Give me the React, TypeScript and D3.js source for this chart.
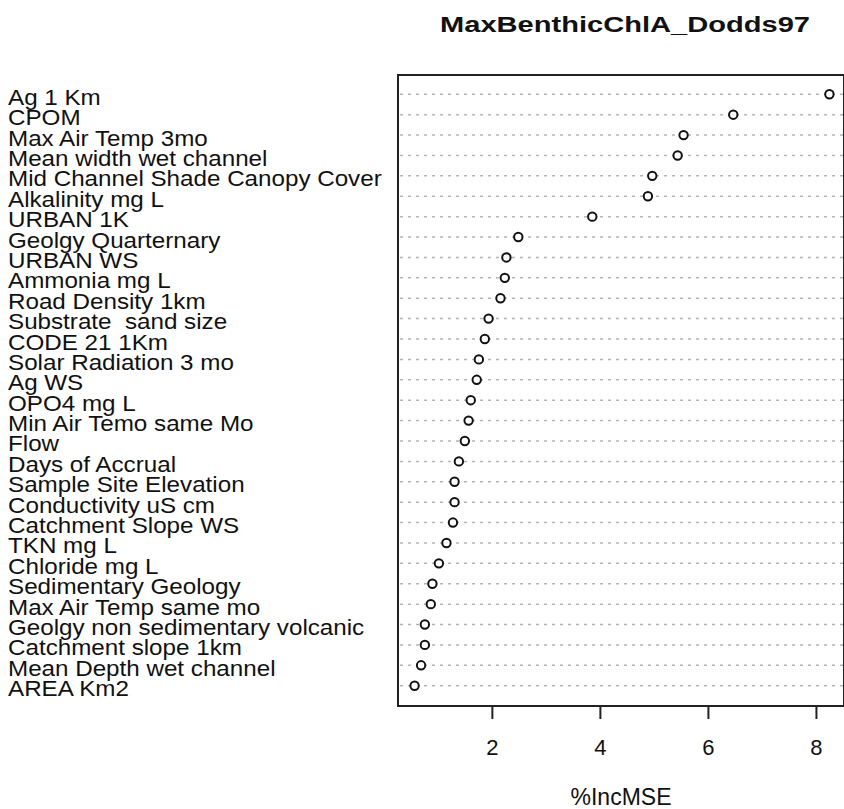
import React, { useRef, useEffect } from 'react';
import * as d3 from 'd3';

const title = 'MaxBenthicChlA_Dodds97';
const xLabel = '%IncMSE';

const variables = [
  'Ag 1 Km',
  'CPOM',
  'Max Air Temp 3mo',
  'Mean width wet channel',
  'Mid Channel Shade Canopy Cover',
  'Alkalinity mg L',
  'URBAN 1K',
  'Geolgy Quarternary',
  'URBAN WS',
  'Ammonia mg L',
  'Road Density 1km',
  'Substrate  sand size',
  'CODE 21 1Km',
  'Solar Radiation 3 mo',
  'Ag WS',
  'OPO4 mg L',
  'Min Air Temo same Mo',
  'Flow',
  'Days of Accrual',
  'Sample Site Elevation',
  'Conductivity uS cm',
  'Catchment Slope WS',
  'TKN mg L',
  'Chloride mg L',
  'Sedimentary Geology',
  'Max Air Temp same mo',
  'Geolgy non sedimentary volcanic',
  'Catchment slope 1km',
  'Mean Depth wet channel',
  'AREA Km2',
];

const incMSE = [
  8.24, 6.46, 5.54, 5.43, 4.96, 4.88, 3.85, 2.48, 2.26, 2.23,
  2.15, 1.93, 1.86, 1.75, 1.71, 1.6, 1.56, 1.49, 1.38, 1.3,
  1.3, 1.27, 1.15, 1.01, 0.89, 0.86, 0.75, 0.75, 0.68, 0.56,
];

const xTicks = [2, 4, 6, 8];

const W = 844;
const H = 809;
const FONT = '"Liberation Sans", Arial, Helvetica, sans-serif';

const App: React.FC = () => {
  const svgRef = useRef<SVGSVGElement>(null);

  useEffect(() => {
    if (!svgRef.current) return;
    const svg = d3.select(svgRef.current);
    svg.selectAll('*').remove();

    const box = { left: 398, right: 844, top: 75, bottom: 706 };

    // R dotchart style: 4% padding on the data range
    const [lo, hi] = d3.extent(incMSE) as [number, number];
    const pad = (hi - lo) * 0.04;
    const x = d3.scaleLinear().domain([lo - pad, hi + pad]).range([box.left, 846]);
    const y = d3.scalePoint<string>().domain(variables).range([94.3, 685.7]);

    svg.append('rect').attr('width', W).attr('height', H).attr('fill', '#fff');

    // dotted guide lines
    svg.append('g')
      .selectAll('line')
      .data(variables)
      .join('line')
      .attr('x1', box.left + 2)
      .attr('x2', box.right)
      .attr('y1', d => y(d)!)
      .attr('y2', d => y(d)!)
      .attr('stroke', '#b4b4b4')
      .attr('stroke-width', 1.5)
      .attr('stroke-dasharray', '3,5');

    // points
    svg.append('g')
      .selectAll('circle')
      .data(incMSE)
      .join('circle')
      .attr('cx', d => x(d))
      .attr('cy', (_, i) => y(variables[i])!)
      .attr('r', 4.2)
      .attr('fill', '#fff')
      .attr('stroke', '#111')
      .attr('stroke-width', 2);

    // frame
    svg.append('rect')
      .attr('x', box.left)
      .attr('y', box.top)
      .attr('width', box.right - box.left)
      .attr('height', box.bottom - box.top)
      .attr('fill', 'none')
      .attr('stroke', '#222')
      .attr('stroke-width', 2);

    // labels (the source bitmap font runs wide, so stretch horizontally)
    svg.append('g')
      .attr('transform', 'translate(8,0) scale(1.1,1)')
      .selectAll('text')
      .data(variables)
      .join('text')
      .attr('x', 0)
      .attr('y', d => y(d)! + 10.5)
      .attr('font-family', FONT)
      .attr('font-size', 22)
      .attr('fill', '#111')
      .style('white-space', 'pre')
      .text(d => d);

    // x axis
    const ax = svg.append('g');
    ax.selectAll('line')
      .data(xTicks)
      .join('line')
      .attr('x1', d => x(d))
      .attr('x2', d => x(d))
      .attr('y1', box.bottom)
      .attr('y2', box.bottom + 13)
      .attr('stroke', '#222')
      .attr('stroke-width', 2);
    ax.selectAll('text')
      .data(xTicks)
      .join('text')
      .attr('x', d => x(d))
      .attr('y', 755)
      .attr('text-anchor', 'middle')
      .attr('font-family', FONT)
      .attr('font-size', 22)
      .attr('fill', '#111')
      .text(d => d);

    svg.append('text')
      .attr('x', 621)
      .attr('y', 805)
      .attr('text-anchor', 'middle')
      .attr('font-family', FONT)
      .attr('font-size', 23)
      .attr('fill', '#111')
      .text(xLabel);

    svg.append('text')
      .attr('x', 625)
      .attr('y', 32)
      .attr('text-anchor', 'middle')
      .attr('font-family', FONT)
      .attr('font-size', 22)
      .attr('font-weight', 'bold')
      .attr('textLength', 370)
      .attr('lengthAdjust', 'spacingAndGlyphs')
      .attr('fill', '#111')
      .text(title);
  }, []);

  return (
    <svg
      ref={svgRef}
      width={W}
      height={H}
      style={{ position: 'absolute', left: 0, top: 0, display: 'block' }}
    />
  );
};

export default App;
